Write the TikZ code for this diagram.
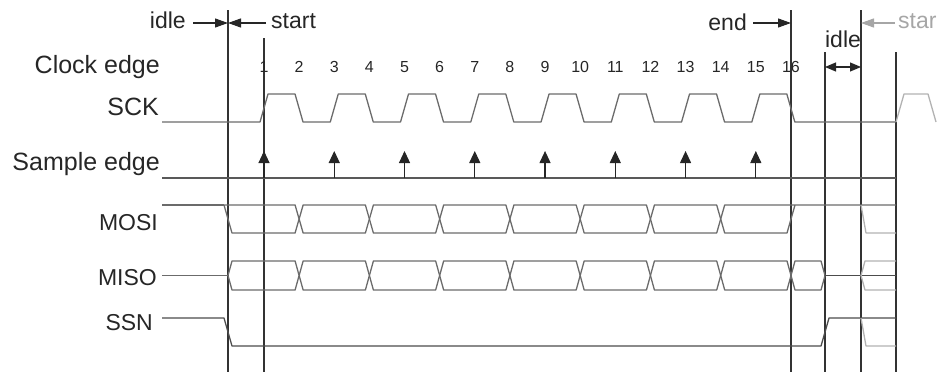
\documentclass[tikz,border=0pt]{standalone}
\usepackage{fontspec}
\setmainfont{Liberation Sans}
\usepackage{tikz}
\usetikzlibrary{positioning, arrows.meta}

\begin{document}
\begin{tikzpicture}[
  x=1pt, y=-1pt,
  font=\fontsize{23}{26}\selectfont,
  lbl/.style={anchor=base east, text=black!85, inner sep=0pt},
  big/.style={font=\fontsize{25}{28}\selectfont},
  num/.style={anchor=base, font=\fontsize{16}{18}\selectfont, text=black!85, inner sep=0pt},
  sig/.style={draw=black!58, line width=1.3pt, line join=round},
  ghost/.style={draw=black!30, line width=1.3pt, line join=round},
  vline/.style={draw=black!80, line width=1.2pt},
  pointer/.style={draw=black!85, line width=1.1pt, -{Triangle[length=13pt, width=9pt]}},
  sampler/.style={draw=black!85, line width=1.1pt, -{Triangle[length=12pt, width=11pt]}},
]
  \useasboundingbox (0,0) rectangle (937,372);

  % Vertical markers
  \coordinate (v1) at (228,10);  \coordinate (v2) at (264,38);
  \coordinate (v3) at (791,10);  \coordinate (v4) at (825,52);
  \coordinate (v5) at (861,10);  \coordinate (v6) at (896,52);
  \foreach \v in {v1,v2,v3,v4,v5,v6} \draw[vline] (\v) -- (\v |- 0,372);

  % Row labels
  \node[lbl, big] (clk)  at (160,73)  {Clock edge};
  \node[lbl, big] (sck)  at (159,115) {SCK};
  \node[lbl, big] (smp)  at (160,170) {Sample edge};
  \node[lbl] (mosi) at (158,230) {MOSI};
  \node[lbl] (miso) at (157,285) {MISO};
  \node[lbl] (ssn)  at (153,330) {SSN};

  % Phase annotations
  \node[lbl] (idleA) at (186,28) {idle};
  \node[anchor=base west, text=black!85, inner sep=0pt] (startA) at (271,28) {start};
  \node[lbl] (endA) at (747,30) {end};
  \node[anchor=base, text=black!85, inner sep=0pt] (idleB) at (843,47) {idle};
  \node[anchor=base west, text=black!35, inner sep=0pt] (startB) at (898,28) {star};
  \coordinate (ia) at (193,23);  \coordinate (sa) at (266,23);
  \coordinate (ea) at (753,23);  \coordinate (sb) at (895,23);
  \coordinate (da) at (825,67);  \coordinate (db) at (861,67);
  \draw[pointer] (ia) -- (ia -| v1);
  \draw[pointer] (sa) -- (sa -| v1);
  \draw[pointer] (ea) -- (ea -| v3);
  \draw[pointer, draw=black!35] (sb) -- (sb -| v5);
  \draw[pointer, {Triangle[length=11pt, width=9pt]}-{Triangle[length=11pt, width=9pt]}] (da) -- (db);

  % Clock edge numbers
  \foreach \k in {1,...,16} \node[num] (e\k) at ({264+35.13*(\k-1)},72) {\k};

  % SCK
  \draw[sig] (162,122)
    \foreach \j in {0,...,7}{
      -- ({260+70.26*\j},122) -- ({268+70.26*\j},94)
      -- ({295+70.26*\j},94) -- ({303+70.26*\j},122) }
    -- (896,122);
  \draw[ghost] (896,122) -- (904,94) -- (928,94) -- (936,122);

  % Sample edges
  \draw[sig, draw=black!65] (162,178) -- (896,178);
  \foreach \k in {1,3,...,15}
    \draw[sampler] ({264+35.13*(\k-1)},178) -- ({264+35.13*(\k-1)},151);

  % MOSI / MISO bus cells
  \foreach \t/\m/\b in {205/219/233, 261/275.5/290}{
    \foreach \j in {1,...,6}{
      \pgfmathsetmacro{\xa}{264+35.13*(2*\j-1)}
      \pgfmathsetmacro{\xb}{\xa+70.26}
      \draw[sig] (\xa,\m) -- ({\xa+4},\t) -- ({\xb-4},\t) -- (\xb,\m)
        -- ({\xb-4},\b) -- ({\xa+4},\b) -- cycle;
    }
  }
  % MOSI ends
  \draw[sig] (162,205) -- (224,205);
  \draw[sig] (224,205) -- (295.1,205) -- (299.1,219) -- (295.1,233)
    -- (232,233) -- cycle;
  \draw[sig] (795,205) -- (787,233) -- (724.7,233) -- (720.7,219) -- (724.7,205) -- (896,205);
  \draw[ghost] (861,205) -- (866,233) -- (896,233);
  % MISO ends
  \draw[sig] (162,275.5) -- (228,275.5);
  \draw[sig] (228,275.5) -- (232,261) -- (295.1,261) -- (299.1,275.5) -- (295.1,290)
    -- (232,290) -- cycle;
  \draw[sig] (720.7,275.5) -- (724.7,261) -- (787,261) -- (791,275.5) -- (787,290)
    -- (724.7,290) -- cycle;
  \draw[sig] (791,275.5) -- (795,261) -- (821,261) -- (825,275.5) -- (821,290)
    -- (795,290) -- cycle;
  \draw[sig, draw=black!70] (825,275.5) -- (896,275.5);
  \draw[ghost] (896,261) -- (865,261) -- (861,275.5) -- (865,290) -- (896,290);

  % SSN
  \draw[sig, draw=black!70] (162,318) -- (224,318) -- (232,346) -- (821,346) -- (829,318) -- (896,318);
  \draw[ghost] (861,318) -- (866,346) -- (896,346);
\end{tikzpicture}
\end{document}
